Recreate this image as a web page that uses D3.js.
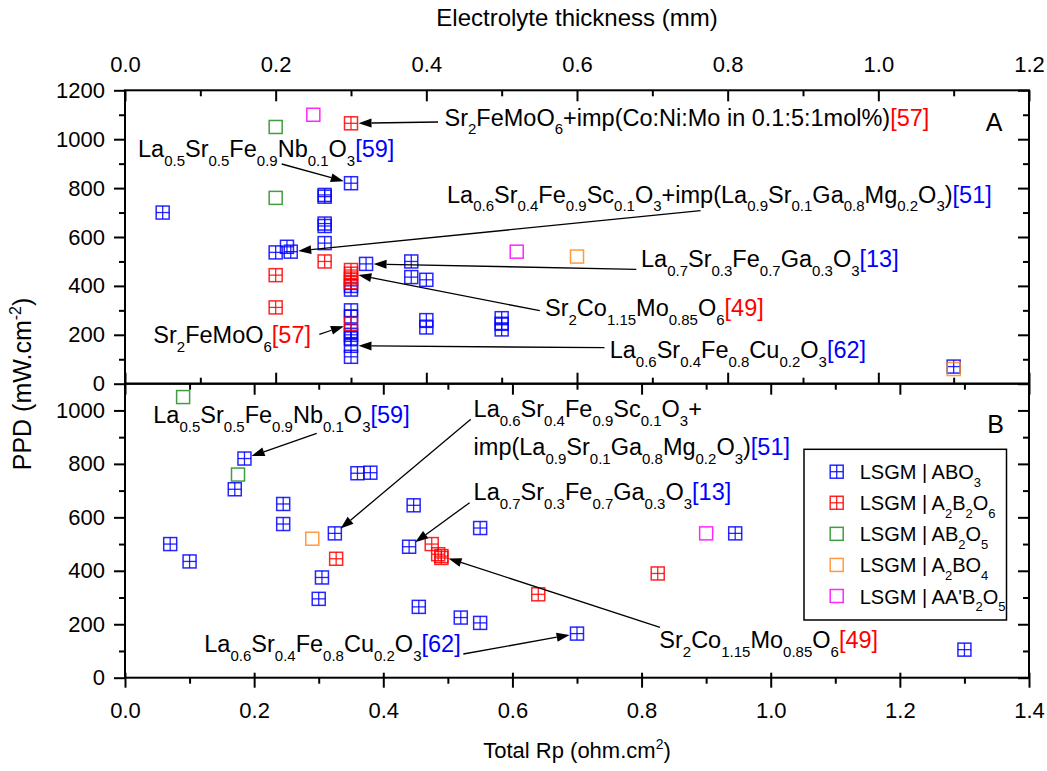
<!DOCTYPE html>
<html><head><meta charset="utf-8">
<script src="https://cdn.jsdelivr.net/npm/d3@7"></script>
<style>
body{margin:0;background:#fff;}
svg{font-family:"Liberation Sans",Arial,Helvetica,sans-serif;}
</style></head><body>
<svg id="chart" width="1047" height="771"></svg>
<script>
// ---------------- DATA ----------------
const seriesNames = ["LSGM | ABO_{3}", "LSGM | A_{2}B_{2}O_{6}", "LSGM | AB_{2}O_{5}", "LSGM | A_{2}BO_{4}", "LSGM | AA'B_{2}O_{5}"];

// Panel A: [electrolyte thickness (mm), PPD (mW/cm2)]
const panelA_ABO3 = [[0.05,700],[0.3,820],[0.265,772],[0.265,765],[0.265,655],[0.265,645],[0.265,575],
  [0.2,537],[0.215,560],[0.22,540],[0.32,490],[0.38,500],[0.38,436],[0.40,425],[0.3,400],[0.3,385],
  [0.3,300],[0.3,275],[0.3,215],[0.3,200],[0.3,185],[0.3,155],[0.3,110],[0.4,260],[0.4,230],
  [0.5,268],[0.5,245],[0.5,222],[1.1,70]];
const panelA_A2B2O6 = [[0.3,1065],[0.265,500],[0.2,444],[0.2,312],[0.3,465],[0.3,450],[0.3,430],[0.3,415],[0.3,245]];
const panelA_AB2O5 = [[0.2,1050],[0.2,760]];
const panelA_A2BO4 = [[0.6,520],[1.1,60]];
const panelA_AAB2O5 = [[0.25,1100],[0.52,540]];

// Panel B: [total Rp (ohm.cm2), PPD (mW/cm2)]
const panelB_ABO3 = [[0.185,820],[0.17,705],[0.245,650],[0.245,575],[0.07,500],[0.1,435],[0.325,540],
  [0.305,375],[0.3,295],[0.36,765],[0.38,767],[0.447,645],[0.44,490],[0.455,265],[0.52,225],
  [0.55,205],[0.55,560],[0.7,165],[0.945,540],[1.3,105]];
const panelB_A2B2O6 = [[0.327,445],[0.475,500],[0.485,462],[0.49,455],[0.49,448],[0.64,312],[0.825,390]];
const panelB_AB2O5 = [[0.09,1050],[0.175,760]];
const panelB_A2BO4 = [[0.29,520]];
const panelB_AAB2O5 = [[0.9,540]];

// Tick values
const thicknessTicks = [0,0.2,0.4,0.6,0.8,1.0,1.2];
const rpTicks = [0,0.2,0.4,0.6,0.8,1.0,1.2,1.4];
const ppdTicksA = [0,200,400,600,800,1000,1200];
const ppdTicksB = [0,200,400,600,800,1000];

// Annotations (text, reference, reference colour key, target data point)
const annotA = [
  {text:"Sr_{2}FeMoO_{6}+imp(Co:Ni:Mo in 0.1:5:1mol%)", ref:"[57]", refSeries:1, target:[0.3,1065]},
  {text:"La_{0.5}Sr_{0.5}Fe_{0.9}Nb_{0.1}O_{3}", ref:"[59]", refSeries:0, target:[0.3,820]},
  {text:"La_{0.6}Sr_{0.4}Fe_{0.9}Sc_{0.1}O_{3}+imp(La_{0.9}Sr_{0.1}Ga_{0.8}Mg_{0.2}O_{3})", ref:"[51]", refSeries:0, target:[0.22,540]},
  {text:"La_{0.7}Sr_{0.3}Fe_{0.7}Ga_{0.3}O_{3}", ref:"[13]", refSeries:0, target:[0.32,490]},
  {text:"Sr_{2}Co_{1.15}Mo_{0.85}O_{6}", ref:"[49]", refSeries:1, target:[0.3,450]},
  {text:"Sr_{2}FeMoO_{6}", ref:"[57]", refSeries:1, target:[0.3,245]},
  {text:"La_{0.6}Sr_{0.4}Fe_{0.8}Cu_{0.2}O_{3}", ref:"[62]", refSeries:0, target:[0.3,155]}
];
const annotB = [
  {text:"La_{0.5}Sr_{0.5}Fe_{0.9}Nb_{0.1}O_{3}", ref:"[59]", refSeries:0, target:[0.185,820]},
  {text:"La_{0.6}Sr_{0.4}Fe_{0.9}Sc_{0.1}O_{3}+", text2:"imp(La_{0.9}Sr_{0.1}Ga_{0.8}Mg_{0.2}O_{3})", ref:"[51]", refSeries:0, target:[0.325,540]},
  {text:"La_{0.7}Sr_{0.3}Fe_{0.7}Ga_{0.3}O_{3}", ref:"[13]", refSeries:0, target:[0.44,490]},
  {text:"Sr_{2}Co_{1.15}Mo_{0.85}O_{6}", ref:"[49]", refSeries:1, target:[0.49,455]},
  {text:"La_{0.6}Sr_{0.4}Fe_{0.8}Cu_{0.2}O_{3}", ref:"[62]", refSeries:0, target:[0.7,165]}
];

// ---------------- LAYOUT / STYLE ----------------
const colors = ["#0000FF","#FF0000","#1E8C1E","#FF8A1C","#FF00FF"];
const crossed = [true,true,false,false,false];
// text anchor (x, baseline) and arrow start for each annotation
const annotLayoutA = [
  {x:444.5,y:125.5,ax:438,ay:122},
  {x:138,y:156.7,ax:281.7,ay:164},
  {x:447,y:202.5,ax:700.6,ay:210.7},
  {x:641,y:266.7,ax:636.3,ay:269.3},
  {x:545,y:316,ax:539.8,ay:310.7},
  {x:153.3,y:343.3,ax:319.3,ay:334.3},
  {x:609.7,y:358.3,ax:604.5,ay:347.7}
];
const annotLayoutB = [
  {x:153.3,y:423.3,ax:316.7,ay:433.3},
  {x:473.6,y:417.3,y2:455,ax:470.8,ay:419.3},
  {x:473.6,y:500,ax:469.6,ay:502.7},
  {x:659.3,y:648.3,ax:660,ay:627.3},
  {x:204.3,y:651.7,ax:463.3,ay:654}
];

const X0 = 125, X1 = 1029;
const A_TOP = 90.3, MID = 383.7, B_BOT = 677.7;
const FS = 22, ANN = 23.5, SUB = 15;

const svg = d3.select("#chart");
svg.append("rect").attr("width",1047).attr("height",771).attr("fill","#fff");

const xA = d3.scaleLinear().domain([0,1.2]).range([X0,X1]);
const xB = d3.scaleLinear().domain([0,1.4]).range([X0,X1]);
const yA = d3.scaleLinear().domain([0,1200]).range([MID,A_TOP]);
const yB = d3.scaleLinear().domain([0,1100]).range([B_BOT,MID]);

function rich(g, x, y, str, fs, subfs, ref, refColor){
  const t = g.append("text").attr("x",x).attr("y",y).attr("font-size",fs).attr("fill","#000");
  const parts = str.split(/(_\{[^}]*\}|\^\{[^}]*\})/).filter(s=>s.length);
  let shift = 0;
  parts.forEach(p=>{
    let target=0, size=fs, txt=p;
    if(p.startsWith("_{")){ txt=p.slice(2,-1); target=fs*0.38; size=subfs; }
    else if(p.startsWith("^{")){ txt=p.slice(2,-1); target=-fs*0.42; size=subfs; }
    t.append("tspan").attr("dy", target-shift).attr("font-size",size).text(txt);
    shift = target;
  });
  if(ref){
    t.append("tspan").attr("dy",-shift).attr("font-size",fs).attr("fill",refColor).text(ref);
    shift = 0;
  }
  return t;
}

function styleAxis(g){
  g.select(".domain").remove();
  g.selectAll(".tick line").attr("stroke","#000").attr("stroke-width",2);
  g.selectAll(".tick text").attr("fill","#000").attr("font-size",FS).attr("font-family","Liberation Sans, Arial, sans-serif");
}
function minorVals(max, step){ const v=[]; for(let i=step;i<max-1e-9;i+=2*step) v.push(+i.toFixed(4)); return v; }

const axes = svg.append("g");
// ---- Panel A axes ----
axes.append("g").attr("transform",`translate(0,${A_TOP})`)
  .call(d3.axisTop(xA).tickValues(thicknessTicks).tickSizeInner(-11).tickSizeOuter(0).tickPadding(18.5).tickFormat(d3.format(".1f"))).call(styleAxis);
axes.append("g").attr("transform",`translate(0,${A_TOP})`)
  .call(d3.axisTop(xA).tickValues(minorVals(1.2,0.1)).tickSizeInner(-6).tickSizeOuter(0).tickFormat("")).call(styleAxis);
axes.append("g").attr("transform",`translate(0,${MID})`)
  .call(d3.axisBottom(xA).tickValues(thicknessTicks).tickSizeInner(-11).tickSizeOuter(0).tickFormat("")).call(styleAxis);
axes.append("g").attr("transform",`translate(0,${MID})`)
  .call(d3.axisBottom(xA).tickValues(minorVals(1.2,0.1)).tickSizeInner(-6).tickSizeOuter(0).tickFormat("")).call(styleAxis);
axes.append("g").attr("transform",`translate(${X0},0)`)
  .call(d3.axisLeft(yA).tickValues(ppdTicksA).tickSizeInner(11).tickSizeOuter(0).tickPadding(9).tickFormat(d3.format("d"))).call(styleAxis);
axes.append("g").attr("transform",`translate(${X0},0)`)
  .call(d3.axisLeft(yA).tickValues(minorVals(1200,100)).tickSizeInner(6).tickSizeOuter(0).tickFormat("")).call(styleAxis);
axes.append("g").attr("transform",`translate(${X1},0)`)
  .call(d3.axisRight(yA).tickValues(ppdTicksA).tickSizeInner(-11).tickSizeOuter(0).tickFormat("")).call(styleAxis);
axes.append("g").attr("transform",`translate(${X1},0)`)
  .call(d3.axisRight(yA).tickValues(minorVals(1200,100)).tickSizeInner(-6).tickSizeOuter(0).tickFormat("")).call(styleAxis);

// ---- Panel B axes ----
axes.append("g").attr("transform",`translate(0,${MID})`)
  .call(d3.axisTop(xB).tickValues(rpTicks).tickSizeInner(-11).tickSizeOuter(0).tickFormat("")).call(styleAxis);
axes.append("g").attr("transform",`translate(0,${MID})`)
  .call(d3.axisTop(xB).tickValues(minorVals(1.4,0.1)).tickSizeInner(-6).tickSizeOuter(0).tickFormat("")).call(styleAxis);
const bAx = axes.append("g").attr("transform",`translate(0,${B_BOT})`)
  .call(d3.axisBottom(xB).tickValues(rpTicks).tickSizeInner(10).tickSizeOuter(0).tickPadding(14.5).tickFormat(d3.format(".1f"))).call(styleAxis);
bAx.selectAll(".tick line").attr("y1",-5);
axes.append("g").attr("transform",`translate(0,${B_BOT})`)
  .call(d3.axisBottom(xB).tickValues(minorVals(1.4,0.1)).tickSizeInner(6).tickSizeOuter(0).tickFormat("")).call(styleAxis);
axes.append("g").attr("transform",`translate(${X0},0)`)
  .call(d3.axisLeft(yB).tickValues(ppdTicksB).tickSizeInner(11).tickSizeOuter(0).tickPadding(9).tickFormat(d3.format("d"))).call(styleAxis);
axes.append("g").attr("transform",`translate(${X0},0)`)
  .call(d3.axisLeft(yB).tickValues(minorVals(1100,100)).tickSizeInner(6).tickSizeOuter(0).tickFormat("")).call(styleAxis);
axes.append("g").attr("transform",`translate(${X1},0)`)
  .call(d3.axisRight(yB).tickValues(ppdTicksB).tickSizeInner(-11).tickSizeOuter(0).tickFormat("")).call(styleAxis);
axes.append("g").attr("transform",`translate(${X1},0)`)
  .call(d3.axisRight(yB).tickValues(minorVals(1100,100)).tickSizeInner(-6).tickSizeOuter(0).tickFormat("")).call(styleAxis);

// frames
[[A_TOP,MID],[MID,B_BOT]].forEach(([t,b])=>{
  svg.append("rect").attr("x",X0).attr("y",t).attr("width",X1-X0).attr("height",b-t)
    .attr("fill","none").attr("stroke","#000").attr("stroke-width",2);
});

// ---- markers ----
const S = 13;
function drawMarkers(g, data, xs, ys, si){
  const c = colors[si];
  const m = g.selectAll(null).data(data).enter().append("g")
    .attr("transform",d=>`translate(${xs(d[0])},${ys(d[1])})`);
  m.append("rect").attr("x",-S/2).attr("y",-S/2).attr("width",S).attr("height",S)
    .attr("fill","none").attr("stroke",c).attr("stroke-width",1.5).attr("stroke-opacity",0.85);
  if(crossed[si]){
    m.append("line").attr("x1",-S/2).attr("x2",S/2).attr("y1",0).attr("y2",0)
      .attr("stroke",c).attr("stroke-width",1.3).attr("stroke-opacity",0.85);
    m.append("line").attr("y1",-S/2).attr("y2",S/2).attr("x1",0).attr("x2",0)
      .attr("stroke",c).attr("stroke-width",1.3).attr("stroke-opacity",0.85);
  }
}
const gA = svg.append("g"), gB = svg.append("g");
[panelA_ABO3,panelA_A2B2O6,panelA_AB2O5,panelA_A2BO4,panelA_AAB2O5].forEach((d,i)=>drawMarkers(gA,d,xA,yA,i));
[panelB_ABO3,panelB_A2B2O6,panelB_AB2O5,panelB_A2BO4,panelB_AAB2O5].forEach((d,i)=>drawMarkers(gB,d,xB,yB,i));

// ---- annotations ----
function arrow(g, sx, sy, tx, ty){
  const dx = tx-sx, dy = ty-sy, L = Math.hypot(dx,dy), ux = dx/L, uy = dy/L;
  const tipX = tx-ux*7.5, tipY = ty-uy*7.5;
  const bx = tipX-ux*13, by = tipY-uy*13;
  g.append("line").attr("x1",sx).attr("y1",sy).attr("x2",bx).attr("y2",by)
    .attr("stroke","#000").attr("stroke-width",1.3);
  g.append("path").attr("d",`M${tipX},${tipY}L${bx-uy*4.5},${by+ux*4.5}L${bx+uy*4.5},${by-ux*4.5}Z`).attr("fill","#000");
}
const gAnn = svg.append("g");
annotA.forEach((a,i)=>{
  const L = annotLayoutA[i];
  rich(gAnn, L.x, L.y, a.text, ANN, SUB, a.ref, colors[a.refSeries]);
  arrow(gAnn, L.ax, L.ay, xA(a.target[0]), yA(a.target[1]));
});
annotB.forEach((a,i)=>{
  const L = annotLayoutB[i];
  if(a.text2){
    rich(gAnn, L.x, L.y, a.text, ANN, SUB, null, null);
    rich(gAnn, L.x, L.y2, a.text2, ANN, SUB, a.ref, colors[a.refSeries]);
  } else {
    rich(gAnn, L.x, L.y, a.text, ANN, SUB, a.ref, colors[a.refSeries]);
  }
  arrow(gAnn, L.ax, L.ay, xB(a.target[0]), yB(a.target[1]));
});

// panel letters
svg.append("text").attr("x",994).attr("y",130.7).attr("text-anchor","middle").attr("font-size",25).text("A");
svg.append("text").attr("x",995.5).attr("y",433.3).attr("text-anchor","middle").attr("font-size",25).text("B");

// ---- legend ----
const lg = svg.append("g");
lg.append("rect").attr("x",804).attr("y",449.3).attr("width",202.5).attr("height",170.7)
  .attr("fill","#fff").attr("stroke","#000").attr("stroke-width",1.5);
const legY = d3.scalePoint().domain(d3.range(seriesNames.length)).range([471.7,596]);
seriesNames.forEach((n,i)=>{
  drawMarkers(lg, [[0,0]], v=>836.7, v=>legY(i), i);
  rich(lg, 859.7, legY(i)+7.5, n, 20, 13, null, null);
});

// ---- axis titles ----
svg.append("text").attr("x",(X0+X1)/2).attr("y",26).attr("text-anchor","middle").attr("font-size",24).text("Electrolyte thickness (mm)");
rich(svg, 0, 758, "Total Rp (ohm.cm^{2})", FS, 14, null, null).attr("text-anchor","middle").attr("x",(X0+X1)/2);
rich(svg, 0, 0, "PPD (mW.cm^{-2})", 25, 16, null, null).attr("text-anchor","middle")
  .attr("transform",`translate(31,${(A_TOP+B_BOT)/2}) rotate(-90)`);
</script>
</body></html>
